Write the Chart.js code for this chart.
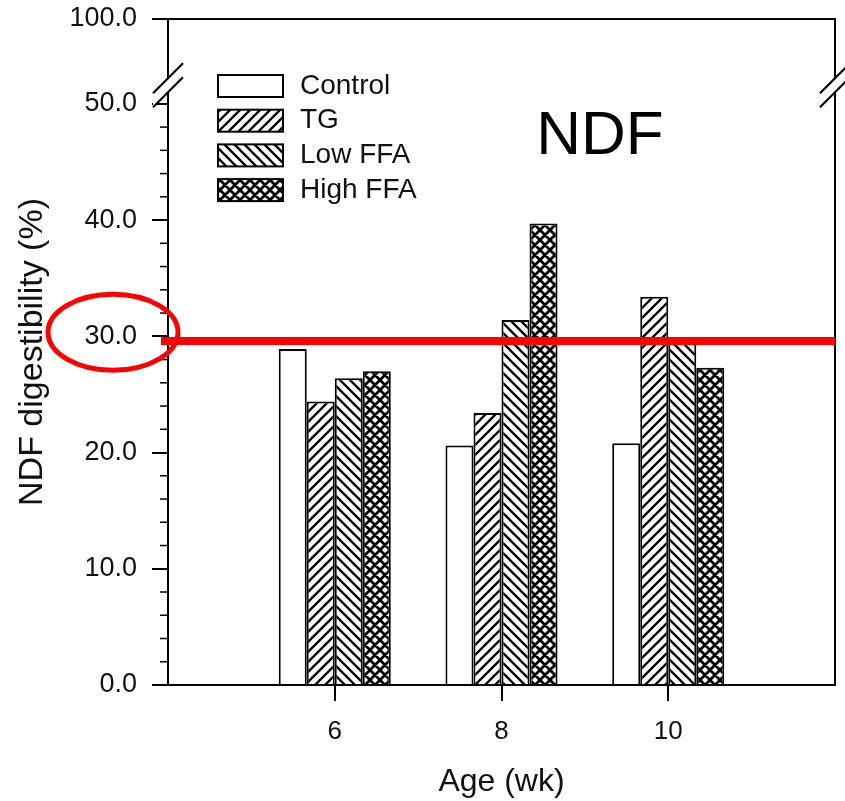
<!DOCTYPE html>
<html>
<head>
<meta charset="utf-8">
<title>NDF digestibility</title>
<script src="https://cdn.jsdelivr.net/npm/chart.js@4.4.1/dist/chart.umd.min.js"></script>
<style>
  html, body { margin: 0; padding: 0; background: #fff; }
  #wrap { width: 845px; height: 801px; position: relative; }
</style>
</head>
<body>
<div id="wrap"><canvas id="ndfChart"></canvas></div>
<script>
// values (empty categories pad the axis to 4..12 wk)
const ages = ["", "6", "8", "10", ""];
const seriesNames = ["Control", "TG", "Low FFA", "High FFA"];
const control = [null, 28.9, 20.6, 20.8, null];
const tg      = [null, 24.4, 23.4, 33.4, null];
const lowFFA  = [null, 26.4, 31.4, 29.5, null];
const highFFA = [null, 27.0, 39.7, 27.3, null];

const yTickValues = [0, 10, 20, 30, 40, 50, 100];
const yTickLabels = ["0.0", "10.0", "20.0", "30.0", "40.0", "50.0", "100.0"];
const yMinorTicks = [2, 4, 6, 8, 12, 14, 16, 18, 22, 24, 26, 28, 32, 34, 36, 38, 42, 44, 46, 48];

const refLineValue = 29.6;  // red line drawn over the plot
const circledTick = 30;     // the tick label circled in red
const panelLabel = "NDF";

// y axis is broken above 50: the 50..100 part is squeezed
const BREAK_AT = 50, BREAK_SQUEEZE = 0.146;
const axisPos = v => v <= BREAK_AT ? v : BREAK_AT + (v - BREAK_AT) * BREAK_SQUEEZE;

const FONT = "'Liberation Sans', Arial, Helvetica, sans-serif";

function hatch(kind) {
  const s = 10, c = document.createElement("canvas");
  c.width = s; c.height = s;
  const g = c.getContext("2d");
  g.fillStyle = "#fff";
  g.fillRect(0, 0, s, s);
  g.strokeStyle = "#000";
  g.lineWidth = kind === "cross" ? 2.8 : 2.3;
  g.beginPath();
  for (let k = -1; k <= 1; k++) {
    if (kind === "fwd" || kind === "cross") { g.moveTo(k * s - 1, s + 1); g.lineTo(k * s + s + 1, -1); }
    if (kind === "back" || kind === "cross") { g.moveTo(k * s - 1, -1); g.lineTo(k * s + s + 1, s + 1); }
  }
  g.stroke();
  return g.createPattern(c, "repeat");
}

const fills = ["#ffffff", hatch("fwd"), hatch("back"), hatch("cross")];
const series = [control, tg, lowFFA, highFFA];

// frame, minor ticks, breaks, legend and the red marks
const decor = {
  id: "decor",
  afterDraw(chart) {
    const { ctx, chartArea: a, scales: { y } } = chart;
    ctx.save();
    ctx.strokeStyle = "#000";
    ctx.lineWidth = 2;
    ctx.beginPath();
    ctx.moveTo(a.left, a.top);
    ctx.lineTo(a.right, a.top);
    ctx.lineTo(a.right, a.bottom);
    ctx.stroke();

    ctx.lineWidth = 1.5;
    yMinorTicks.forEach(v => {
      const py = y.getPixelForValue(axisPos(v));
      ctx.beginPath(); ctx.moveTo(a.left - 8, py); ctx.lineTo(a.left, py); ctx.stroke();
    });

    // axis break marks
    const y50 = y.getPixelForValue(axisPos(50)), yTop = y.getPixelForValue(axisPos(100));
    const by = y50 - 0.22 * (y50 - yTop);
    [a.left, a.right].forEach(bx => {
      ctx.fillStyle = "#fff";
      ctx.beginPath();
      ctx.moveTo(bx - 15, by + 8); ctx.lineTo(bx + 15, by - 22);
      ctx.lineTo(bx + 15, by - 8); ctx.lineTo(bx - 15, by + 22);
      ctx.closePath(); ctx.fill();
      ctx.lineWidth = 2.2;
      ctx.beginPath();
      ctx.moveTo(bx - 15, by + 8); ctx.lineTo(bx + 15, by - 22);
      ctx.moveTo(bx - 15, by + 22); ctx.lineTo(bx + 15, by - 8);
      ctx.stroke();
    });

    // legend
    ctx.font = "28px " + FONT;
    ctx.textBaseline = "middle";
    ctx.textAlign = "left";
    seriesNames.forEach((name, i) => {
      const top = a.top + 55 + i * 34.7;
      ctx.fillStyle = "#000";
      ctx.fillRect(a.left + 49, top, 67, 24);
      ctx.fillStyle = fills[i];
      ctx.fillRect(a.left + 51, top + 2, 63, 20);
      ctx.fillStyle = "#111";
      ctx.fillText(name, a.left + 132, top + 12);
    });

    ctx.font = "62px " + FONT;
    ctx.textAlign = "center";
    ctx.fillStyle = "#000";
    ctx.fillText(panelLabel, a.left + 432, a.top + 118);

    // red annotation
    const ry = y.getPixelForValue(refLineValue);
    ctx.strokeStyle = "#ff0000";
    ctx.lineWidth = 8;
    ctx.beginPath(); ctx.moveTo(a.left - 7, ry); ctx.lineTo(a.right, ry); ctx.stroke();
    ctx.lineWidth = 5;
    ctx.beginPath();
    ctx.ellipse(a.left - 55, y.getPixelForValue(circledTick) - 4, 65, 38, 0, 0, Math.PI * 2);
    ctx.stroke();
    ctx.restore();
  }
};

new Chart(document.getElementById("ndfChart"), {
  type: "bar",
  data: {
    labels: ages,
    datasets: series.map((d, i) => ({
      label: seriesNames[i], data: d, backgroundColor: fills[i],
      borderColor: "#000", borderWidth: 2
    }))
  },
  options: {
    responsive: true,
    maintainAspectRatio: false,
    animation: false,
    categoryPercentage: 0.672,
    barPercentage: 1,
    layout: { padding: { top: 19, right: 10, left: 0, bottom: 0 } },
    plugins: { legend: { display: false }, tooltip: { enabled: false } },
    scales: {
      x: {
        offset: false,
        afterFit: s => { s.height = 116; s.paddingLeft = 0; s.paddingRight = 0; },
        grid: {
          offset: false, drawOnChartArea: false, tickLength: 16, lineWidth: 2,
          color: c => (ages[c.index] ? "#000" : "rgba(0,0,0,0)")
        },
        border: { display: true, color: "#000", width: 2 },
        ticks: { autoSkip: false, maxRotation: 0, padding: 15, color: "#111", font: { family: FONT, size: 26 } },
        title: { display: true, text: "Age (wk)", color: "#111", font: { family: FONT, size: 32 }, padding: { top: 0, bottom: 0 } }
      },
      y: {
        min: 0,
        max: axisPos(100),
        afterFit: s => { s.width = 168; s.paddingTop = 0; s.paddingBottom = 0; },
        afterBuildTicks: s => { s.ticks = yTickValues.map(v => ({ value: axisPos(v) })); },
        grid: { drawOnChartArea: false, tickLength: 16, lineWidth: 2, color: "#000" },
        border: { display: true, color: "#000", width: 2 },
        ticks: { padding: 15, color: "#111", font: { family: FONT, size: 27 }, callback: (v, i) => yTickLabels[i] },
        title: { display: true, text: "NDF digestibility (%)", color: "#111", font: { family: FONT, size: 34 }, padding: { top: 12, bottom: 0 } }
      }
    }
  },
  plugins: [decor]
});
</script>
</body>
</html>
